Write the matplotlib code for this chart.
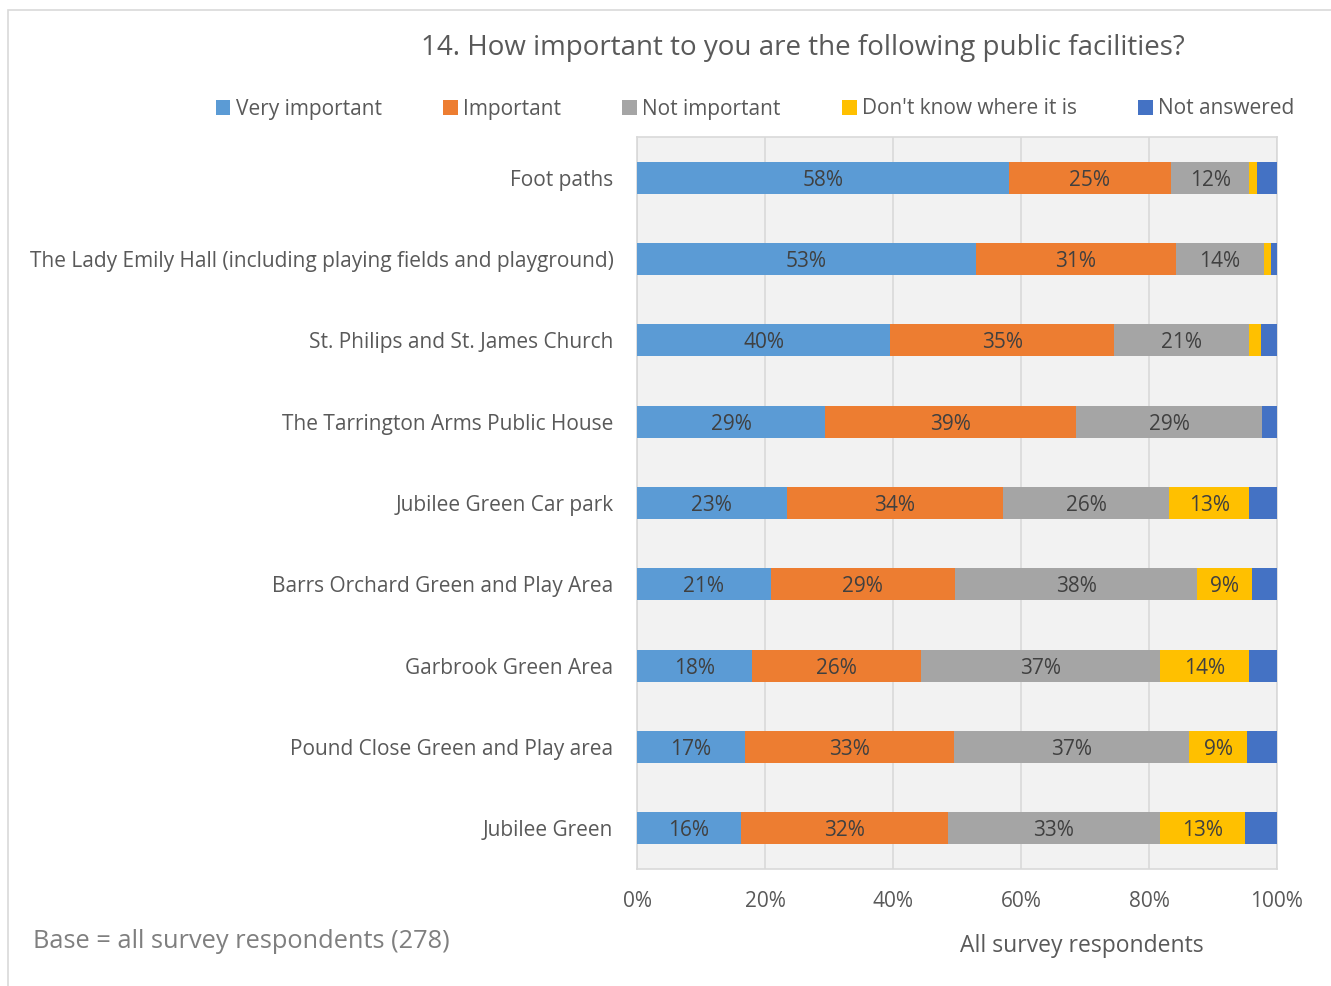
import matplotlib.pyplot as plt
import matplotlib.patches as mpatches
import numpy as np

plt.rcParams['font.family'] = ['Open Sans', 'DejaVu Sans']

# Datos (porcentajes)
instalaciones = [
    "Foot paths",
    "The Lady Emily Hall (including playing fields and playground)",
    "St. Philips and St. James Church",
    "The Tarrington Arms Public House",
    "Jubilee Green Car park",
    "Barrs Orchard Green and Play Area",
    "Garbrook Green Area",
    "Pound Close Green and Play area",
    "Jubilee Green",
]
series = ["Very important", "Important", "Not important", "Don't know where it is", "Not answered"]
muy_importante = [58.1, 52.9, 39.6, 29.4, 23.4, 20.9, 18.0, 16.9, 16.2]
importante = [25.3, 31.3, 34.9, 39.2, 33.8, 28.8, 26.3, 32.7, 32.4]
no_importante = [12.3, 13.7, 21.2, 29.1, 25.9, 37.8, 37.4, 36.7, 33.1]
no_sabe = [1.1, 1.2, 1.8, 0.0, 12.6, 8.6, 14.0, 9.0, 13.3]
sin_respuesta = [3.2, 0.9, 2.5, 2.3, 4.3, 3.9, 4.3, 4.7, 5.0]
ticks_x = [0, 20, 40, 60, 80, 100]

colores = ["#5B9BD5", "#ED7D31", "#A5A5A5", "#FFC000", "#4472C4"]
valores = [muy_importante, importante, no_importante, no_sabe, sin_respuesta]

W, H = 1331, 986
fig = plt.figure(figsize=(W / 100, H / 100), dpi=100)

# Borde del gráfico
fig.patches.append(mpatches.Rectangle((8 / W, -0.01), 1.0, 1 - 10 / H + 0.01,
                                      transform=fig.transFigure, fill=False,
                                      edgecolor="#D9D9D9", linewidth=1.2))

ax = fig.add_axes([637 / W, 1 - 869 / H, 640 / W, (869 - 137) / H])
ax.set_facecolor("#F2F2F2")

y = np.arange(len(instalaciones))
izquierda = np.zeros(len(instalaciones))
for nombre, vals, col in zip(series, valores, colores):
    vals = np.array(vals)
    ax.barh(y, vals, left=izquierda, height=0.39, color=col, label=nombre, zorder=3)
    if nombre != "Not answered":
        for yi, l, v in zip(y, izquierda, vals):
            if v >= 6:
                ax.text(l + v / 2, yi, f"{v:.0f}%", ha="center", va="center_baseline",
                        fontsize=15, color="#404040", zorder=4)
    izquierda += vals

ax.set_xlim(0, 100)
ax.set_ylim(len(instalaciones) - 0.5, -0.5)
ax.set_xticks(ticks_x)
ax.set_xticklabels([f"{t}%" for t in ticks_x])
ax.set_yticks(y)
ax.set_yticklabels(instalaciones)
ax.tick_params(axis="both", length=0, colors="#595959")
ax.tick_params(axis="x", pad=16, labelsize=15)
ax.tick_params(axis="y", pad=17, labelsize=15)
ax.grid(axis="x", color="#D9D9D9", linewidth=1.2, zorder=0)
for s in ax.spines.values():
    s.set_color("#D9D9D9")
    s.set_linewidth(1.2)

fig.text(803 / W, 1 - 48.5 / H, "14. How important to you are the following public facilities?",
         ha="center", va="center", fontsize=20, color="#595959")
fig.text(33 / W, 1 - 942 / H, "Base = all survey respondents (278)",
         ha="left", va="center", fontsize=18.3, color="#7F7F7F")
fig.text(1082 / W, 1 - 946 / H, "All survey respondents",
         ha="center", va="center", fontsize=16.5, color="#595959")

leg = fig.legend(loc="center", bbox_to_anchor=(755 / W, 1 - 109 / H), ncol=5,
                 frameon=False, fontsize=15, handlelength=0.7, handleheight=0.7,
                 handletextpad=0.25, columnspacing=2.95)
for t in leg.get_texts():
    t.set_color("#595959")

plt.savefig("out.png", dpi=100)
